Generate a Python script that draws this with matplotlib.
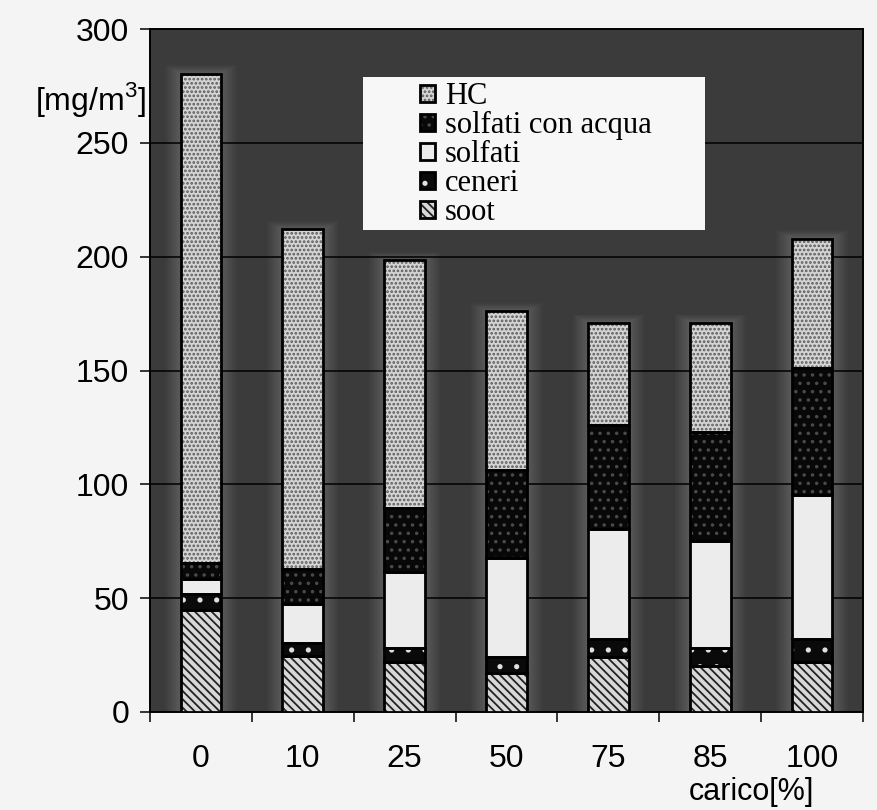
import matplotlib
matplotlib.use("Agg")
import matplotlib.pyplot as plt
from matplotlib.patches import Patch, Rectangle
from matplotlib.legend_handler import HandlerTuple
import numpy as np

# engine load levels and particulate composition (mg/m3)
carico = ["0", "10", "25", "50", "75", "85", "100"]
soot = [45, 24.5, 22, 17, 24, 20, 22]
ceneri = [7, 6, 6, 7, 8, 8, 10]
solfati = [6.5, 17, 33.5, 43.5, 48.5, 47, 63.5]
solfati_acqua = [7, 15.5, 28, 39, 45.5, 48, 55.5]
hc = [215, 149, 109, 69.5, 45, 48, 57]

y_ticks = [0, 50, 100, 150, 200, 250, 300]

plt.rcParams["mathtext.fontset"] = "custom"
plt.rcParams["mathtext.rm"] = "Liberation Sans"
plt.rcParams["hatch.linewidth"] = 1.3

SANS = "Liberation Sans"
SERIF = "Liberation Serif"

fig = plt.figure(figsize=(8.77, 8.10), dpi=100)
fig.patch.set_facecolor("#f4f4f4")
ax = fig.add_axes([0.171, 0.121, 0.813, 0.843])
ax.set_facecolor("#3b3b3b")

x = np.arange(len(carico))
width = 0.4

# (label, values, face colour, hatch colour, hatch) from bottom to top
layers = [
    ("soot", soot, "#d8d8d8", "#222222", "\\\\\\\\"),
    ("ceneri", ceneri, "#0a0a0a", "#e0e0e0", "."),
    ("solfati", solfati, "#ececec", "#ececec", ""),
    ("solfati con acqua", solfati_acqua, "#080808", "#4a4a4a", ".."),
    ("HC", hc, "#d4d4d4", "#5a5a5a", "...."),
]

totals = np.sum([np.asarray(l[1], dtype=float) for l in layers], axis=0)

# faint glow around each column
for extra in np.linspace(0.03, 0.30, 10):
    ax.bar(x, totals + extra * 12, width + extra, color="white", alpha=0.018,
           linewidth=0, zorder=1.5)

bottom = np.zeros(len(carico))
handles = {}
for label, vals, face, hcol, hatch in layers:
    vals = np.asarray(vals, dtype=float)
    ax.bar(x, vals, width, bottom=bottom, color=face, edgecolor=hcol,
           linewidth=0, hatch=hatch, zorder=3)
    ax.bar(x, vals, width, bottom=bottom, fill=False, edgecolor="black",
           linewidth=2.0, zorder=4)
    bottom += vals
    handles[label] = (Patch(facecolor=face, edgecolor=hcol, linewidth=0, hatch=hatch),
                      Patch(fill=False, edgecolor="black", linewidth=2.0))

# grid and axes
ax.set_ylim(0, 300)
ax.set_xlim(-0.5, len(carico) - 0.5)
ax.set_yticks(y_ticks)
ax.set_yticklabels([str(v) for v in y_ticks], fontsize=23, family=SANS)
for yv in y_ticks[1:-1]:
    ax.axhline(yv, color="black", linewidth=1.1, zorder=2)

ax.set_xticks(x)
ax.set_xticklabels(carico, fontsize=23, family=SANS)
ax.set_xticks(np.arange(-0.5, len(carico)), minor=True)
ax.tick_params(axis="x", which="major", length=0, pad=23)
ax.tick_params(axis="x", which="minor", length=7, width=1.1, direction="out")
ax.tick_params(axis="y", which="major", length=7, width=1.1, direction="out", pad=8)
for sp in ax.spines.values():
    sp.set_color("black")
    sp.set_linewidth(1.4)

# legend on a white panel
ax.add_patch(Rectangle((0.299, 0.706), 0.479, 0.224, transform=ax.transAxes,
                       facecolor="#f7f7f7", edgecolor="none", zorder=5))
order = ["HC", "solfati con acqua", "solfati", "ceneri", "soot"]
leg = ax.legend([handles[k] for k in order], order,
                handler_map={tuple: HandlerTuple(ndivide=1, pad=0)},
                loc="upper left", bbox_to_anchor=(0.379, 0.922),
                frameon=False, borderpad=0, borderaxespad=0,
                handlelength=0.5, handleheight=0.5, handletextpad=0.3,
                labelspacing=0.0, prop={"family": SERIF, "size": 22})
leg.set_zorder(6)

fig.text(0.103, 0.877, r"[mg/m$^{3}$]", fontsize=23, family=SANS,
         ha="center", va="center")
fig.text(0.857, 0.004, "carico[%]", fontsize=22, family=SANS,
         ha="center", va="bottom")

fig.savefig("out.png", dpi=100, facecolor=fig.get_facecolor())
